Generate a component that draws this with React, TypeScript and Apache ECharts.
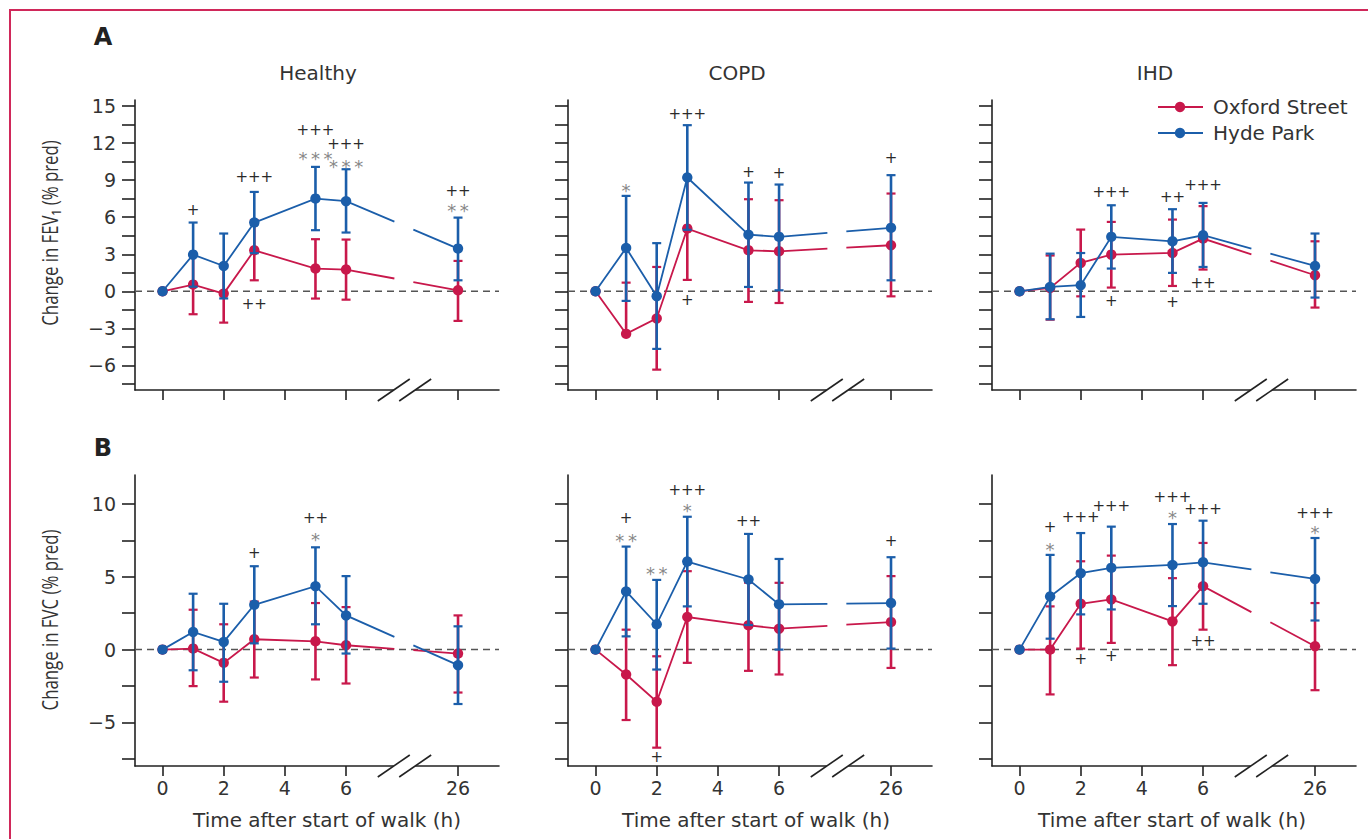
import React, { useEffect, useRef } from "react";
import * as echarts from "echarts";

// ---------- data ----------
const times = [0, 1, 2, 3, 5, 6, 26];
const xTickTimes = [0, 2, 4, 6, 26];
const fevTicks = [-6, -3, 0, 3, 6, 9, 12, 15];
const fevMinorTicks = [-7.5, -6, -4.5, -3, -1.5, 0, 1.5, 3, 4.5, 6, 7.5, 9, 10.5, 12, 13.5, 15];
const fvcTicks = [-5, 0, 5, 10];
const fvcMinorTicks = [-7.5, -5, -2.5, 0, 2.5, 5, 7.5, 10];
const panelNames = ["Healthy", "COPD", "IHD"];
const seriesNames = ["Oxford Street", "Hyde Park"];

// each row: [mean, lower, upper] at the matching time
const fevHealthyOxford = [[0, 0, 0], [0.54, -1.86, 2.94], [-0.19, -2.54, 2.16], [3.32, 0.89, 5.75], [1.84, -0.59, 4.22], [1.76, -0.68, 4.19], [0.08, -2.4, 2.46]];
const fevHealthyHyde = [[0, 0, 0], [2.97, 0.37, 5.57], [2.05, -0.58, 4.68], [5.57, 3.09, 8.05], [7.51, 4.95, 10.08], [7.3, 4.76, 9.89], [3.46, 0.89, 5.97]];
const fevCopdOxford = [[0, 0, 0], [-3.45, -3.45, 0.7], [-2.2, -6.35, 1.97], [5.08, 0.92, 9.2], [3.32, -0.86, 7.46], [3.24, -0.95, 7.38], [3.73, -0.41, 7.92]];
const fevCopdHyde = [[0, 0, 0], [3.51, -0.78, 7.73], [-0.4, -4.67, 3.9], [9.22, 4.98, 13.46], [4.59, 0.35, 8.81], [4.41, 0.08, 8.65], [5.14, 0.89, 9.41]];
const fevIhdOxford = [[0, 0, 0], [0.27, -2.3, 2.9], [2.3, -0.41, 5.0], [2.97, 0.3, 5.62], [3.11, 0.43, 5.81], [4.27, 1.76, 6.9], [1.3, -1.32, 4.05]];
const fevIhdHyde = [[0, 0, 0], [0.35, -2.27, 3.05], [0.49, -2.08, 3.1], [4.41, 1.84, 6.97], [4.05, 1.49, 6.65], [4.54, 1.97, 7.16], [2.05, -0.51, 4.68]];

const fvcHealthyOxford = [[0, 0, 0], [0.07, -2.51, 2.74], [-0.91, -3.58, 1.74], [0.71, -1.92, 3.3], [0.57, -2.05, 3.2], [0.3, -2.33, 2.92], [-0.27, -2.95, 2.35]];
const fvcHealthyHyde = [[0, 0, 0], [1.21, -1.42, 3.84], [0.53, -2.21, 3.15], [3.08, 0.43, 5.73], [4.36, 1.74, 7.03], [2.35, -0.27, 5.05], [-1.07, -3.74, 1.6]];
const fvcCopdOxford = [[0, 0, 0], [-1.71, -4.84, 1.37], [-3.58, -6.74, -0.46], [2.24, -0.91, 5.39], [1.67, -1.46, 4.6], [1.44, -1.71, 4.59], [1.89, -1.26, 5.05]];
const fvcCopdHyde = [[0, 0, 0], [4.0, 0.91, 7.08], [1.74, -1.37, 4.79], [6.05, 2.97, 9.13], [4.82, 1.69, 7.95], [3.11, 0.0, 6.23], [3.2, 0.07, 6.35]];
const fvcIhdOxford = [[0, 0, 0], [0, -3.08, 2.97], [3.15, 0.07, 6.07], [3.45, 0.46, 6.46], [1.94, -1.07, 4.91], [4.36, 1.37, 7.33], [0.23, -2.79, 3.2]];
const fvcIhdHyde = [[0, 0, 0], [3.65, 0.75, 6.51], [5.25, 2.42, 8.01], [5.62, 2.76, 8.45], [5.82, 2.99, 8.63], [6.0, 3.15, 8.86], [4.86, 2.0, 7.67]];

// significance marks: [time, value, text]
const fevHealthyMarks = [[1, 6.57, "+"], [3, 9.27, "+++"], [3, -1.05, "++"], [5, 11.08, "***"], [5, 13.05, "+++"], [6, 10.4, "***"], [6, 11.9, "+++"], [26, 6.84, "**"], [26, 8.1, "++"]];
const fevCopdMarks = [[1, 8.46, "*"], [3, 14.4, "+++"], [3, -0.68, "+"], [5, 9.68, "+"], [6, 9.6, "+"], [26, 10.76, "+"]];
const fevIhdMarks = [[3, 8.05, "+++"], [3, -0.81, "+"], [5, 7.65, "++"], [5, -0.86, "+"], [6, 8.59, "+++"], [6, 0.68, "++"]];
const fvcHealthyMarks = [[3, 6.64, "+"], [5, 7.83, "*"], [5, 9.04, "++"]];
const fvcCopdMarks = [[1, 7.76, "**"], [1, 9.02, "+"], [2, 5.48, "**"], [2, -7.35, "+"], [3, 9.84, "*"], [3, 10.98, "+++"], [5, 8.86, "++"], [26, 7.44, "+"]];
const fvcIhdMarks = [[1, 7.15, "*"], [1, 8.4, "+"], [2, 9.09, "+++"], [2, -0.68, "+"], [3, 9.89, "+++"], [3, -0.46, "+"], [5, 9.32, "*"], [5, 10.5, "+++"], [6, 9.66, "+++"], [6, 0.59, "++"], [26, 8.29, "*"], [26, 9.38, "+++"]];

// ---------- layout / style ----------
const FONT = "'DejaVu Sans', sans-serif";
const NARROW = "'Open Sans', sans-serif";
const RED = "#c8184b";
const BLUE = "#1b5eaa";
const AXIS = "#222";
const TEXT = "#333";
const X_MIN = -0.9;
const X_MAX = 11;
const X26 = 9.66; // axis position of the 26 h point after the break
const GAP = [7.58, 8.2];
const BREAK = [7.56, 8.26];
const colLeft = [135, 568, 992];
const GRID_W = 364;
const rowTop = [100, 475];
const rowH = [290, 291];
const rowCfg = [
  { min: -8, max: 15.5, ticks: fevTicks, minor: fevMinorTicks },
  { min: -8, max: 12, ticks: fvcTicks, minor: fvcMinorTicks },
];
const xPos = (t: number) => (t === 26 ? X26 : t);

const panels = [
  { row: 0, col: 0, oxford: fevHealthyOxford, hyde: fevHealthyHyde, marks: fevHealthyMarks },
  { row: 0, col: 1, oxford: fevCopdOxford, hyde: fevCopdHyde, marks: fevCopdMarks },
  { row: 0, col: 2, oxford: fevIhdOxford, hyde: fevIhdHyde, marks: fevIhdMarks },
  { row: 1, col: 0, oxford: fvcHealthyOxford, hyde: fvcHealthyHyde, marks: fvcHealthyMarks },
  { row: 1, col: 1, oxford: fvcCopdOxford, hyde: fvcCopdHyde, marks: fvcCopdMarks },
  { row: 1, col: 2, oxford: fvcIhdOxford, hyde: fvcIhdHyde, marks: fvcIhdMarks },
];

function buildOption() {
  const grid: any[] = [];
  const xAxis: any[] = [];
  const yAxis: any[] = [];
  const series: any[] = [];

  panels.forEach((p, g) => {
    const rc = rowCfg[p.row];
    grid.push({ left: colLeft[p.col], top: rowTop[p.row], width: GRID_W, height: rowH[p.row] });
    const xt = xTickTimes.map(xPos);
    xAxis.push({
      gridIndex: g,
      type: "value",
      min: X_MIN,
      max: X_MAX,
      axisLine: { show: true, onZero: false, lineStyle: { color: AXIS, width: 1.6 } },
      axisTick: { show: true, customValues: xt, length: 10, lineStyle: { color: AXIS, width: 1.6 } },
      axisLabel: {
        show: p.row === 1,
        customValues: xt,
        margin: 12,
        fontSize: 19,
        fontFamily: FONT,
        color: TEXT,
        formatter: (v: number) => {
          const i = xt.findIndex((q) => Math.abs(q - v) < 1e-6);
          return i >= 0 ? String(xTickTimes[i]) : "";
        },
      },
      splitLine: { show: false },
    });
    yAxis.push({
      gridIndex: g,
      type: "value",
      min: rc.min,
      max: rc.max,
      axisLine: { show: true, onZero: false, lineStyle: { color: AXIS, width: 1.6 } },
      axisTick: { show: true, customValues: rc.minor, length: 13, lineStyle: { color: AXIS, width: 1.6 } },
      axisLabel: {
        show: p.col === 0,
        customValues: rc.ticks,
        margin: 19,
        fontSize: 19,
        fontFamily: FONT,
        color: TEXT,
        formatter: (v: number) => String(v).replace("-", "\u2212"),
      },
      splitLine: { show: false },
    });

    // zero reference line
    series.push({
      type: "custom",
      xAxisIndex: g,
      yAxisIndex: g,
      clip: false,
      silent: true,
      data: [[0, 0]],
      renderItem: (params: any, api: any) => {
        const a = api.coord([X_MIN, 0]);
        const b = api.coord([X_MAX, 0]);
        return {
          type: "line",
          shape: { x1: a[0], y1: a[1], x2: b[0], y2: b[1] },
          style: { stroke: "#555", lineWidth: 1.5, lineDash: [7, 5] },
        };
      },
    });

    // axis break
    series.push({
      type: "custom",
      xAxisIndex: g,
      yAxisIndex: g,
      clip: false,
      silent: true,
      data: [[0, 0]],
      renderItem: (params: any, api: any) => {
        const ay = api.coord([0, rc.min])[1];
        const x0 = api.coord([BREAK[0], 0])[0];
        const x1 = api.coord([BREAK[1], 0])[0];
        const slash = (cx: number) => ({
          type: "line",
          shape: { x1: cx - 16, y1: ay + 11, x2: cx + 16, y2: ay - 11 },
          style: { stroke: AXIS, lineWidth: 1.6 },
        });
        return {
          type: "group",
          children: [
            { type: "rect", shape: { x: x0, y: ay - 3, width: x1 - x0, height: 6 }, style: { fill: "#fff" } },
            slash(x0),
            slash(x1),
          ],
        };
      },
    });

    const groups: [number[][], string, string][] = [
      [p.oxford, RED, seriesNames[0]],
      [p.hyde, BLUE, seriesNames[1]],
    ];
    groups.forEach(([rows, color, name]) => {
      // connecting line with gap across the break
      series.push({
        type: "custom",
        name,
        xAxisIndex: g,
        yAxisIndex: g,
        clip: false,
        silent: true,
        data: [[0, 0]],
        renderItem: (params: any, api: any) => {
          const pts = rows.map((r, i) => api.coord([xPos(times[i]), r[0]]));
          const n = pts.length;
          const p6 = pts[n - 2];
          const p26 = pts[n - 1];
          const gx0 = api.coord([GAP[0], 0])[0];
          const gx1 = api.coord([GAP[1], 0])[0];
          const lerp = (gx: number) => {
            const f = (gx - p6[0]) / (p26[0] - p6[0]);
            return [gx, p6[1] + f * (p26[1] - p6[1])];
          };
          const first = pts.slice(0, n - 1).concat([lerp(gx0)]);
          const second = [lerp(gx1), p26];
          return {
            type: "group",
            children: [
              { type: "polyline", shape: { points: first }, style: { stroke: color, lineWidth: 1.8, fill: null } },
              { type: "polyline", shape: { points: second }, style: { stroke: color, lineWidth: 1.8, fill: null } },
            ],
          };
        },
      });
      // error bars + markers
      series.push({
        type: "custom",
        name,
        xAxisIndex: g,
        yAxisIndex: g,
        clip: false,
        silent: true,
        data: rows.map((r, i) => [xPos(times[i]), r[0], r[1], r[2]]),
        renderItem: (params: any, api: any) => {
          const x = api.value(0);
          const pm = api.coord([x, api.value(1)]);
          const pl = api.coord([x, api.value(2)]);
          const ph = api.coord([x, api.value(3)]);
          const cap = (py: number) => ({
            type: "line",
            shape: { x1: pm[0] - 4.5, y1: py, x2: pm[0] + 4.5, y2: py },
            style: { stroke: color, lineWidth: 2.2 },
          });
          return {
            type: "group",
            children: [
              { type: "line", shape: { x1: pl[0], y1: pl[1], x2: ph[0], y2: ph[1] }, style: { stroke: color, lineWidth: 2.6 } },
              cap(pl[1]),
              cap(ph[1]),
              { type: "circle", shape: { cx: pm[0], cy: pm[1], r: 5.2 }, style: { fill: color } },
            ],
          };
        },
      });
    });

    // significance marks
    series.push({
      type: "custom",
      xAxisIndex: g,
      yAxisIndex: g,
      clip: false,
      silent: true,
      data: p.marks.map((m) => [xPos(m[0] as number), m[1] as number]),
      renderItem: (params: any, api: any) => {
        const s = p.marks[params.dataIndex][2] as string;
        const star = s.indexOf("*") >= 0;
        const pt = api.coord([api.value(0), api.value(1)]);
        return {
          type: "text",
          x: pt[0],
          y: pt[1] + (star ? 4 : 0),
          style: {
            text: star ? s.split("").join("\u2009") : s,
            fill: star ? "#888" : "#2a2a2a",
            fontSize: star ? 18 : 15,
            lineHeight: 11,
            fontFamily: FONT,
            align: "center",
            verticalAlign: "middle",
          },
        };
      },
    });
  });

  const titleCenters = [318, 737, 1155];
  const xTitleCenters = [327, 756, 1172];
  const graphic: any[] = [
    { type: "rect", shape: { x: 10, y: 10, width: 1400, height: 900 }, style: { fill: "none", stroke: "#d0285a", lineWidth: 2 } },
    { type: "text", x: 103, y: 37, style: { text: "A", fontSize: 24, fontWeight: "bold", fontFamily: FONT, fill: "#222", align: "center", verticalAlign: "middle" } },
    { type: "text", x: 103, y: 448, style: { text: "B", fontSize: 24, fontWeight: "bold", fontFamily: FONT, fill: "#222", align: "center", verticalAlign: "middle" } },
    { type: "text", x: 50, y: 233, rotation: Math.PI / 2, scaleX: 0.8, style: { text: "Change in FEV\u2081 (% pred)", fontSize: 21, fontFamily: NARROW, fill: TEXT, align: "center", verticalAlign: "middle" } },
    { type: "text", x: 50, y: 620, rotation: Math.PI / 2, scaleX: 0.8, style: { text: "Change in FVC (% pred)", fontSize: 21, fontFamily: NARROW, fill: TEXT, align: "center", verticalAlign: "middle" } },
  ];
  panelNames.forEach((n, i) => {
    graphic.push({ type: "text", x: titleCenters[i], y: 73, style: { text: n, fontSize: 20, fontFamily: FONT, fill: TEXT, align: "center", verticalAlign: "middle" } });
    graphic.push({ type: "text", x: xTitleCenters[i], y: 820, style: { text: "Time after start of walk (h)", fontSize: 20, fontFamily: FONT, fill: TEXT, align: "center", verticalAlign: "middle" } });
  });
  [RED, BLUE].forEach((c, i) => {
    const y = 107 + i * 26;
    graphic.push({ type: "line", shape: { x1: 1158, y1: y, x2: 1203, y2: y }, style: { stroke: c, lineWidth: 2 } });
    graphic.push({ type: "circle", shape: { cx: 1180, cy: y, r: 5.2 }, style: { fill: c } });
    graphic.push({ type: "text", x: 1213, y, style: { text: seriesNames[i], fontSize: 20, fontFamily: FONT, fill: TEXT, align: "left", verticalAlign: "middle" } });
  });

  return {
    animation: false,
    backgroundColor: "#fff",
    grid,
    xAxis,
    yAxis,
    series,
    graphic,
  };
}

export default function App() {
  const ref = useRef<HTMLDivElement>(null);
  useEffect(() => {
    const chart = echarts.init(ref.current as HTMLDivElement, null, { renderer: "svg" });
    chart.setOption(buildOption() as any);
    return () => chart.dispose();
  }, []);
  return <div ref={ref} style={{ position: "fixed", left: 0, top: 0, width: 1368, height: 839, background: "#fff" }} />;
}
